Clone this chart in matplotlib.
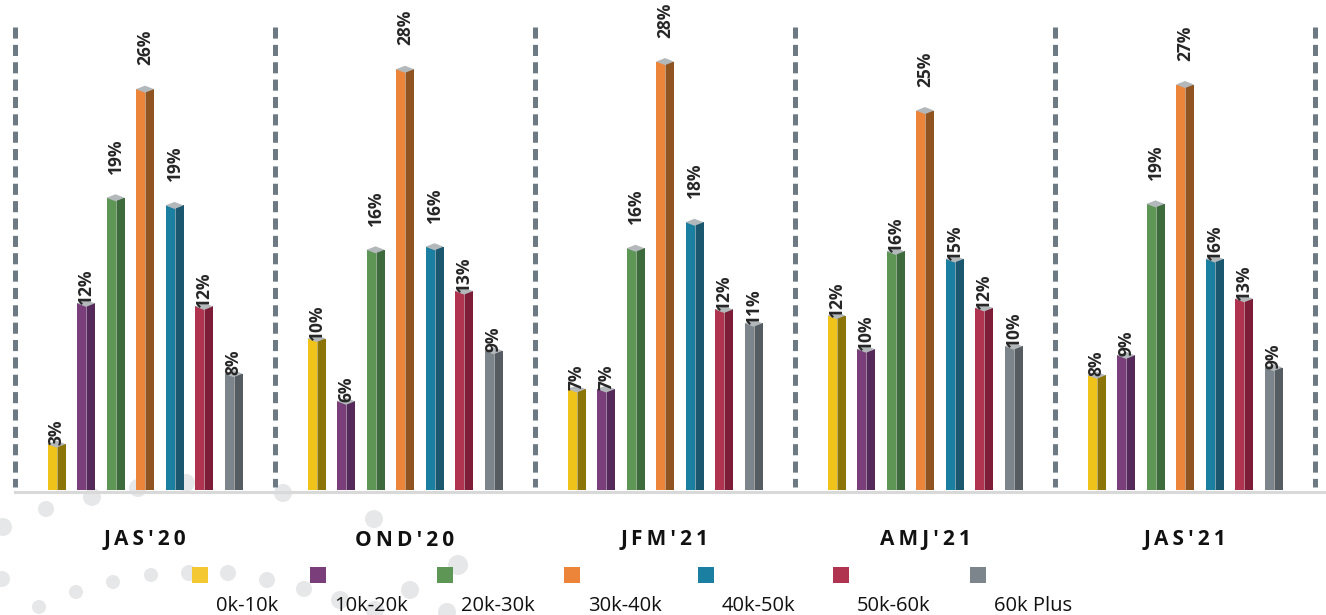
import numpy as np
import matplotlib.pyplot as plt
from matplotlib.patches import Rectangle, Circle

plt.rcParams['font.family'] = ['Open Sans', 'DejaVu Sans']
plt.rcParams['lines.scale_dashes'] = False

# data
quarters = ["JAS'20", "OND'20", "JFM'21", "AMJ'21", "JAS'21"]
bands = ['0k-10k', '10k-20k', '20k-30k', '30k-40k', '40k-50k', '50k-60k', '60k Plus']
# bar heights (%), one list per band, one value per quarter
s_0_10 = [3.0, 9.9, 6.6, 11.4, 7.5]
s_10_20 = [12.2, 5.8, 6.6, 9.2, 8.8]
s_20_30 = [19.1, 15.7, 15.8, 15.6, 18.7]
s_30_40 = [26.2, 27.5, 28.0, 24.8, 26.5]
s_40_50 = [18.6, 15.9, 17.5, 15.1, 15.1]
s_50_60 = [12.0, 13.0, 11.8, 11.9, 12.5]
s_60_up = [7.6, 9.1, 10.9, 9.4, 8.0]
# printed labels
l_0_10 = [3, 10, 7, 12, 8]
l_10_20 = [12, 6, 7, 10, 9]
l_20_30 = [19, 16, 16, 16, 19]
l_30_40 = [26, 28, 28, 25, 27]
l_40_50 = [19, 16, 18, 15, 16]
l_50_60 = [12, 13, 12, 12, 13]
l_60_up = [8, 9, 11, 10, 9]

series = [s_0_10, s_10_20, s_20_30, s_30_40, s_40_50, s_50_60, s_60_up]
labels = [l_0_10, l_10_20, l_20_30, l_30_40, l_40_50, l_50_60, l_60_up]

# styling
front = ['#f0c31a', '#7a3f7a', '#5e9656', '#ec843a', '#1a7fa0', '#b0344f', '#7b858b']
side = ['#8c7408', '#55295a', '#3e6b3c', '#8f5420', '#1b5870', '#7e1d38', '#555d62']
legend_x = [192, 310, 437, 564, 698, 833, 970]
# labels that sit higher above their bar (band index, quarter index)
lifted = {(2, 0), (3, 0), (4, 0), (2, 1), (3, 1), (4, 1), (2, 2), (3, 2), (4, 2),
          (3, 3), (2, 4), (3, 4)}
# decorative background dots (pixels)
bg_dots = [(46, 509, 8), (92, 497, 9), (3, 527, 9), (138, 488, 9), (186, 483, 9),
           (283, 493, 9), (374, 519, 9), (2, 579, 8), (39, 607, 7), (76, 592, 7),
           (113, 582, 7), (151, 575, 7), (189, 573, 8), (228, 573, 8), (267, 580, 8),
           (304, 589, 8), (340, 600, 9), (375, 610, 9), (410, 590, 9), (458, 565, 10),
           (447, 612, 9)]

W, H = 1326, 615
PX = 15.3          # pixels per percent
BASE = 490         # baseline pixel row
GW = 260           # group width in pixels
fig = plt.figure(figsize=(W / 100, H / 100), dpi=100)

# background layer in pixel units
bg = fig.add_axes([0, 0, 1, 1], zorder=0)
bg.set_xlim(0, W)
bg.set_ylim(H, 0)
bg.axis('off')
for x, y, r in bg_dots:
    bg.add_patch(Circle((x, y), r, color='#e6e7e8', lw=0))

# main chart layer: x in group units, y in percent
ax = fig.add_axes([0, 0, 1, 1], zorder=1)
ax.patch.set_alpha(0)
ax.set_xlim(-0.5 - 15 / GW, -0.5 + (W - 15) / GW)
ax.set_ylim(-(H - BASE) / PX, BASE / PX)
ax.axis('off')

pitch = 29.5 / GW
w = 9 / GW
dy = 3.5 / PX
x = np.arange(len(quarters))
for i, vals in enumerate(series):
    xc = x + (i - 3) * pitch
    ax.bar(xc - w / 2, vals, width=w, color=front[i], lw=0, zorder=3)
    ax.bar(xc + w / 2, vals, width=w, color=side[i], lw=0, zorder=3)
    for j, v in enumerate(vals):
        ax.plot([xc[j], xc[j]], [0, v], color='white', lw=0.6, alpha=0.5, zorder=4)
        ax.fill([xc[j] - w, xc[j], xc[j] + w, xc[j]], [v, v + dy, v, v - dy],
                color='#b3b8bb', lw=0, zorder=5)
        off = 24 / PX if (i, j) in lifted else -1 / PX
        ax.text(xc[j], v + off, f'{labels[i][j]}%', rotation=90, ha='center',
                va='bottom', fontsize=12.5, fontweight='bold', color='#262626', zorder=6)

# separators and baseline
for k in range(len(quarters) + 1):
    ax.plot([k - 0.5, k - 0.5], [(BASE - 27) / PX, 3 / PX], color='#6e7a83', lw=3.6,
            dashes=(8, 4.5), solid_capstyle='butt', dash_capstyle='butt', zorder=2)
ax.plot([-0.5, ax.get_xlim()[1]], [-2 / PX, -2 / PX], color='#d9d9d9', lw=2.2, zorder=2)

for j, q in enumerate(quarters):
    ax.text(x[j], -50 / PX, '\u2009'.join(q), ha='center', va='center', fontsize=15,
            fontweight='bold', color='#111111')

# legend
for i, b in enumerate(bands):
    bg.add_patch(Rectangle((legend_x[i], 567), 16, 16, color=front[i] if i != 0 else '#f3c832',
                           lw=0, zorder=3))
    bg.text(legend_x[i] + 24, 611, b, ha='left', va='baseline', fontsize=14.5,
            color='#111111', zorder=3)

fig.savefig('out.png', dpi=100)
